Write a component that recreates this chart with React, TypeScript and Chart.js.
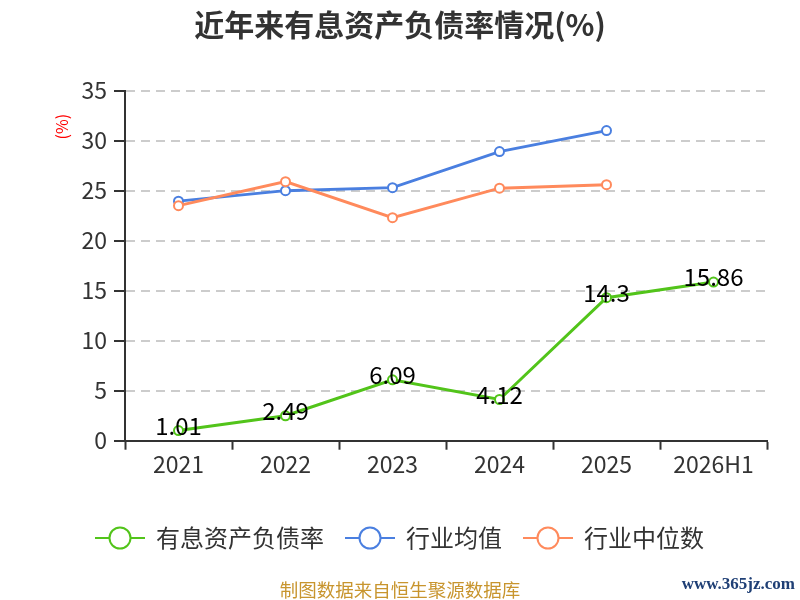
import React, { useEffect, useRef } from "react";
import { Chart, registerables } from "chart.js";

Chart.register(...registerables);

const categories = ["2021", "2022", "2023", "2024", "2025", "2026H1"];
const debtRatio = [1.01, 2.49, 6.09, 4.12, 14.3, 15.86];
const industryAvg = [23.95, 25.0, 25.3, 28.9, 31.0, null];
const industryMedian = [23.5, 25.9, 22.3, 25.25, 25.6, null];
const seriesNames = ["有息资产负债率", "行业均值", "行业中位数"];
const seriesColors = ["#52c41a", "#4a7fe0", "#ff8a5c"];
const yMin = 0;
const yMax = 35;
const yStep = 5;

const FONT = '"Noto Sans CJK SC", "Noto Sans", sans-serif';

// little line + hollow circle used as the legend symbol
const makeLegendIcon = (color: string) => {
  const c = document.createElement("canvas");
  c.width = 50;
  c.height = 26;
  const ctx = c.getContext("2d")!;
  ctx.strokeStyle = color;
  ctx.lineWidth = 2;
  ctx.beginPath();
  ctx.moveTo(0, 13);
  ctx.lineTo(50, 13);
  ctx.stroke();
  ctx.beginPath();
  ctx.arc(25, 13, 10.5, 0, Math.PI * 2);
  ctx.fillStyle = "#fff";
  ctx.fill();
  ctx.stroke();
  return c;
};

const valueLabels = {
  id: "valueLabels",
  afterDatasetsDraw(chart: any) {
    const meta = chart.getDatasetMeta(0);
    const ctx = chart.ctx;
    ctx.save();
    ctx.font = `24px ${FONT}`;
    ctx.fillStyle = "#000";
    ctx.textAlign = "center";
    ctx.textBaseline = "middle";
    meta.data.forEach((pt: any, i: number) => {
      ctx.fillText(String(debtRatio[i]), pt.x, pt.y - 5);
    });
    ctx.restore();
  },
};

const extraText = {
  id: "extraText",
  afterDraw(chart: any) {
    const ctx = chart.ctx;
    const area = chart.chartArea;
    ctx.save();
    // unit label on the y axis
    ctx.translate(area.left - 63, area.top + 36);
    ctx.rotate(-Math.PI / 2);
    ctx.font = `16px ${FONT}`;
    ctx.fillStyle = "#ff0000";
    ctx.textAlign = "center";
    ctx.textBaseline = "middle";
    ctx.fillText("(%)", 0, 0);
    ctx.restore();

    ctx.save();
    ctx.textBaseline = "middle";
    ctx.textAlign = "center";
    ctx.font = `18.5px ${FONT}`;
    ctx.fillStyle = "#c8952e";
    ctx.fillText("制图数据来自恒生聚源数据库", chart.width / 2, chart.height - 10);
    ctx.textAlign = "right";
    ctx.font = 'bold 17px "Liberation Serif", serif';
    ctx.fillStyle = "#1f3f75";
    ctx.fillText("www.365jz.com", chart.width - 5, chart.height - 15);
    ctx.restore();
  },
};

const App = () => {
  const chartRef = useRef<HTMLCanvasElement>(null);
  const chartInstanceRef = useRef<any>(null);

  useEffect(() => {
    const ctx = chartRef.current!.getContext("2d")!;
    if (chartInstanceRef.current) {
      chartInstanceRef.current.destroy();
    }

    const icons = seriesColors.map((c) => makeLegendIcon(c));
    const makeLine = (label: string, data: any[], color: string, order: number) => ({
      label,
      data,
      order,
      borderColor: color,
      backgroundColor: "#fff",
      borderWidth: 3,
      pointRadius: 4.5,
      pointBorderWidth: 2,
      pointBackgroundColor: "#fff",
      pointBorderColor: color,
      tension: 0,
    });

    chartInstanceRef.current = new Chart(ctx, {
      type: "line",
      data: {
        labels: categories,
        datasets: [
          makeLine(seriesNames[0], debtRatio, seriesColors[0], 0),
          makeLine(seriesNames[1], industryAvg, seriesColors[1], 2),
          makeLine(seriesNames[2], industryMedian, seriesColors[2], 1),
        ],
      },
      options: {
        responsive: true,
        maintainAspectRatio: false,
        animation: false,
        layout: { padding: { left: 0, right: 0, top: 0, bottom: 40 } },
        font: { family: FONT },
        scales: {
          x: {
            offset: true,
            grid: {
              offset: true,
              drawOnChartArea: false,
              drawTicks: true,
              tickLength: 9,
              tickColor: "#333",
              tickWidth: 2,
            },
            border: { color: "#333", width: 2 },
            ticks: { color: "#333", font: { family: FONT, size: 23 }, padding: 1 },
            afterFit: (s: any) => {
              s.height = 63.3;
            },
          },
          y: {
            min: yMin,
            max: yMax,
            ticks: {
              stepSize: yStep,
              color: "#333",
              font: { family: FONT, size: 23 },
              padding: 7,
            },
            grid: {
              color: "#cccccc",
              lineWidth: 2,
              tickLength: 11,
              tickColor: "#333",
              tickWidth: 2,
            },
            border: { color: "#333", width: 2, dash: [9, 6] },
            afterFit: (s: any) => {
              s.width = 125;
            },
          },
          yRight: {
            type: "linear",
            position: "right",
            display: true,
            ticks: { display: false },
            grid: { display: false },
            border: { display: false },
            afterFit: (s: any) => {
              s.width = 33;
            },
          },
        },
        plugins: {
          title: {
            display: true,
            text: "近年来有息资产负债率情况(%)",
            color: "#333",
            font: { family: FONT, size: 30, weight: "bold" },
            padding: { top: 7, bottom: 47.6 },
          },
          legend: {
            position: "bottom",
            labels: {
              usePointStyle: true,
              pointStyleWidth: 48,
              padding: 22,
              color: "#333",
              font: { family: FONT, size: 24 },
              generateLabels: (chart: any) => {
                const items = Chart.defaults.plugins.legend.labels.generateLabels(chart);
                return items
                  .sort((a: any, b: any) => a.datasetIndex - b.datasetIndex)
                  .map((it: any) => ({ ...it, pointStyle: icons[it.datasetIndex] }));
              },
            },
          },
          tooltip: { enabled: false },
        },
      } as any,
      plugins: [valueLabels, extraText],
    });

    return () => {
      if (chartInstanceRef.current) {
        chartInstanceRef.current.destroy();
        chartInstanceRef.current = null;
      }
    };
  }, []);

  return (
    <div style={{ position: "absolute", left: 0, top: 0, width: 800, height: 600 }}>
      <canvas ref={chartRef} />
    </div>
  );
};

export default App;
